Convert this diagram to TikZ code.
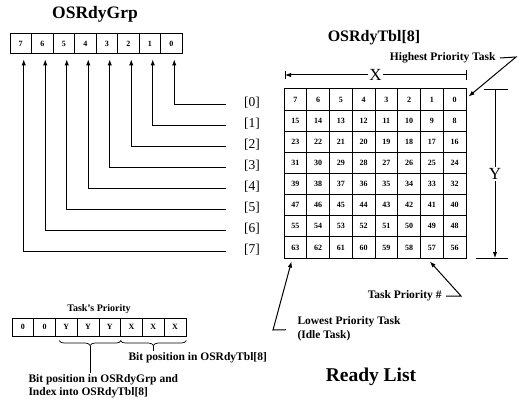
\documentclass[tikz,border=0pt]{standalone}
\usepackage{fontspec}
\setmainfont{Liberation Serif}
\usetikzlibrary{arrows.meta,decorations.pathreplacing,calc}
\begin{document}
\begin{tikzpicture}[x=1pt,y=-1pt,line width=1pt,
  >={Latex[length=6pt,width=4.5pt]},
  cellbase/.style={draw,line width=1pt,inner sep=0pt,font=\bfseries\fontsize{8}{9}\selectfont},
  grpcell/.style={cellbase,minimum width=21.5pt,minimum height=20pt},
  tblcell/.style={cellbase,minimum width=22.75pt,minimum height=21.125pt},
  pricell/.style={cellbase,minimum width=21.75pt,minimum height=18pt},
  bigtitle/.style={font=\bfseries\fontsize{17.5}{20}\selectfont},
  lbl/.style={font=\bfseries\fontsize{11.5}{13}\selectfont,inner sep=1pt},
  idx/.style={font=\fontsize{13.5}{15}\selectfont},
  dimlabel/.style={font=\fontsize{17}{20}\selectfont,fill=white,inner sep=1pt},
]
\useasboundingbox (0,0) rectangle (523,404);

% OSRdyGrp
\node[bigtitle] (tgrp) at (95,14) {OSRdyGrp};
\foreach \i in {0,...,7}{
  \pgfmathtruncatemacro\b{7-\i}
  \node[grpcell] (g\b) at ({20.75+21.5*\i},44) {\b};
}
\foreach \b in {0,...,7}{
  \coordinate (r\b) at (226,{105+20.9*\b});
  \node[idx] (l\b) at (252,{103+20.9*\b}) {[\b]};
  \draw[->] (r\b) -| ($(g\b.south)+(3,5)$);
}

% OSRdyTbl
\node[font=\bfseries\fontsize{16}{19}\selectfont] (ttbl) at (374,38) {OSRdyTbl[8]};
\foreach \r in {0,...,7}{
  \foreach \c in {0,...,7}{
    \pgfmathtruncatemacro\v{8*\r+7-\c}
    \node[tblcell] (t\r\c) at ({284+22.75*(\c+0.5)},{89+21.125*(\r+0.5)}) {\v};
  }
}

% X dimension
\coordinate (xl) at (285,75);
\coordinate (xr) at (466,75);
\draw[{Latex[length=6pt,width=4.5pt]}-] (xl) -- node[dimlabel] (xlab) {X} (xr);
\draw ($(xl)+(0,-4)$) -- ($(xl)+(0,4)$);
\draw ($(xr)+(0,-5)$) -- ($(xr)+(0,5)$);

% Y dimension
\coordinate (yt) at (495,90);
\coordinate (yb) at (495,258);
\draw[->] (yt) -- node[dimlabel] (ylab) {Y} (yb);
\draw ($(yt)+(-11,0)$) -- ($(yt)+(13,0)$);
\draw ($(yb)+(-19,0)$) -- ($(yb)+(13,0)$);

% Highest priority
\node[lbl,anchor=east] (hpt) at (497,58) {Highest Priority Task};
\coordinate (hptk) at (516,57);
\draw[->] ($(hpt.east)+(3,0)$) -- (hptk) -- ($(t07.east)+(2,-3)$);

% Task priority #
\node[lbl,anchor=east] (tpn) at (443,296) {Task Priority \#};
\coordinate (tpnk) at (461,296);
\draw[->] ($(tpn.east)+(3,0)$) -- (tpnk) -- ($(t76.south)+(-2,3)$);

% Lowest priority
\node[lbl,anchor=west] (lpt) at (296,322) {Lowest Priority Task};
\node[lbl,anchor=west] (idle) at (296,336) {(Idle Task)};
\coordinate (lptk) at (273,330);
\draw[->] ($(lpt.south west)+(-10,1)$) -- (lptk) -- ($(t70.south west)+(8,3)$);

% Ready List
\node[font=\bfseries\fontsize{19.5}{22}\selectfont] (rl) at (371,377) {Ready List};

% Task's priority
\node[font=\bfseries\fontsize{10}{11}\selectfont] (tp) at (99,309) {Task's Priority};
\foreach \i/\t in {0/0,1/0,2/Y,3/Y,4/Y,5/X,6/X,7/X}{
  \node[pricell] (p\i) at ({12+21.75*(\i+0.5)},327) {\t};
}
\coordinate (b1s) at ($(p2.south west)+(4,4)$);
\coordinate (b1e) at ($(p4.south east)+(0,4)$);
\coordinate (b2s) at ($(p5.south west)+(0,4)$);
\coordinate (b2e) at ($(p7.south east)+(0,4)$);
\coordinate (b1m) at ($(b1s)!0.5!(b1e)+(0,5)$);
\coordinate (b2m) at ($(b2s)!0.5!(b2e)+(0,5)$);
\draw[line width=0.7pt,decorate,decoration={brace,mirror,amplitude=5pt}] (b1s) -- (b1e);
\draw[line width=0.7pt,decorate,decoration={brace,mirror,amplitude=5pt}] (b2s) -- (b2e);

\node[lbl,anchor=west] (bt) at (127,358) {Bit position in OSRdyTbl[8]};
\node[lbl,anchor=west] (bg1) at (27,380) {Bit position in OSRdyGrp and};
\node[lbl,anchor=west] (bg2) at (27,393) {Index into OSRdyTbl[8]};

\draw[line width=0.7pt] (b1m) -- (b1m |- bg1.north);
\draw[line width=0.7pt] (b2m) -- (b2m |- bt.north);
\end{tikzpicture}
\end{document}
